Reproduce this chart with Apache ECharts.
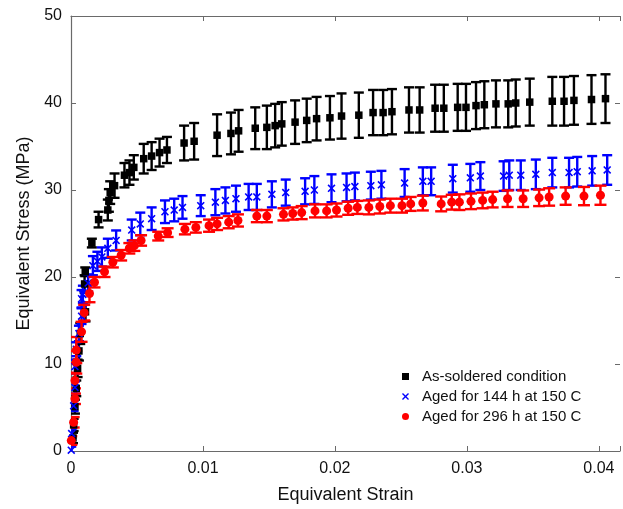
<!DOCTYPE html>
<html>
<head>
<meta charset="utf-8">
<script src="https://cdn.jsdelivr.net/npm/echarts@6/dist/echarts.min.js"></script>
<style>
  html, body { margin: 0; padding: 0; background: #fff; }
  #chart { width: 623px; height: 509px; }
</style>
</head>
<body>
<div id="chart"></div>
<script>
// axis ticks
const xTicks = [0, 0.01, 0.02, 0.03, 0.04];
const yTicks = [0, 10, 20, 30, 40, 50];

const seriesNames = ['As-soldered condition', 'Aged for 144 h at 150 C', 'Aged for 296 h at 150 C'];

// As-soldered condition
const soldStrain = [0.00015, 0.0002, 0.0003, 0.0004, 0.0005, 0.0006, 0.0007, 0.0011, 0.00103, 0.00108,
  0.00158, 0.00209, 0.00279, 0.00287, 0.00297, 0.0033, 0.00405, 0.00443, 0.00476, 0.00551,
  0.00611, 0.00671, 0.00727, 0.00857, 0.00933, 0.01107, 0.01212, 0.0127, 0.01396, 0.01484,
  0.01547, 0.01597, 0.01698, 0.01786, 0.01861, 0.01962, 0.0205, 0.02181, 0.02289, 0.02365,
  0.02432, 0.02561, 0.02642, 0.02759, 0.02825, 0.0293, 0.02993, 0.03069, 0.03132, 0.0322,
  0.03313, 0.0337, 0.03476, 0.03647, 0.03736, 0.03811, 0.03944, 0.0405];
const soldStress = [1.5, 3.0, 5.1, 7.2, 9.5, 11.5, 13.5, 16.0, 19.2, 20.6,
  23.9, 26.6, 27.7, 28.8, 29.7, 30.5, 31.7, 32.0, 32.6, 33.6,
  33.9, 34.3, 34.6, 35.4, 35.6, 36.3, 36.5, 36.8, 37.1, 37.2,
  37.4, 37.6, 37.8, 38.0, 38.2, 38.3, 38.5, 38.6, 38.9, 38.9,
  39.0, 39.2, 39.2, 39.4, 39.4, 39.5, 39.5, 39.7, 39.8, 39.9,
  39.9, 40.0, 40.1, 40.2, 40.2, 40.3, 40.4, 40.5];
const soldErr = [0.6, 0.7, 0.8, 0.9, 1.0, 1.1, 1.2, 1.1, 1.0, 0.5,
  0.5, 0.9, 1.2, 1.3, 1.3, 1.4, 1.4, 1.4, 1.4, 1.7,
  1.6, 1.6, 1.5, 2.0, 2.1, 2.4, 2.4, 2.4, 2.4, 2.5,
  2.5, 2.5, 2.5, 2.5, 2.5, 2.5, 2.6, 2.6, 2.6, 2.6,
  2.6, 2.6, 2.6, 2.7, 2.7, 2.7, 2.7, 2.7, 2.7, 2.7,
  2.7, 2.7, 2.7, 2.8, 2.8, 2.8, 2.8, 2.8];

// Aged for 144 h at 150 C
const aged144Strain = [0.00002, 0.00005, 0.0002, 0.0003, 0.0003, 0.0004, 0.0006, 0.0008, 0.0008, 0.0009,
  0.0013, 0.00166, 0.002, 0.00234, 0.00279, 0.00342, 0.0046, 0.00525, 0.00611, 0.00712,
  0.00782, 0.00845, 0.00983, 0.01094, 0.0117, 0.0125, 0.01346, 0.01408, 0.01522, 0.01627,
  0.01774, 0.01844, 0.01974, 0.02088, 0.02151, 0.02272, 0.02352, 0.02528, 0.02666, 0.02729,
  0.02893, 0.03026, 0.03102, 0.03278, 0.03321, 0.03408, 0.03522, 0.03647, 0.03774, 0.03836,
  0.03949, 0.04063];
const aged144Stress = [0.1, 2.0, 5.2, 7.3, 9.7, 11.7, 13.5, 15.5, 17.5, 18.0,
  19.3, 21.3, 21.8, 22.3, 23.3, 24.2, 25.4, 26.1, 26.7, 27.5,
  27.7, 28.0, 28.2, 28.6, 28.8, 29.0, 29.2, 29.2, 29.5, 29.7,
  29.85, 30.0, 30.2, 30.3, 30.4, 30.5, 30.6, 30.8, 31.0, 31.0,
  31.3, 31.4, 31.6, 31.6, 31.7, 31.7, 31.8, 32.0, 32.0, 32.1,
  32.2, 32.3];
const aged144Err = [0.4, 0.5, 0.6, 0.7, 0.8, 0.8, 0.9, 0.9, 1.0, 1.0,
  1.0, 1.1, 1.1, 1.1, 1.1, 1.15, 1.2, 1.3, 1.3, 1.3,
  1.3, 1.3, 1.2, 1.5, 1.5, 1.5, 1.5, 1.5, 1.5, 1.5,
  1.5, 1.6, 1.6, 1.6, 1.6, 1.6, 1.6, 1.6, 1.6, 1.6,
  1.6, 1.6, 1.6, 1.7, 1.7, 1.7, 1.7, 1.7, 1.7, 1.7,
  1.7, 1.7];

// Aged for 296 h at 150 C
const aged296Strain = [0.00002, 0.0002, 0.0003, 0.0003, 0.0004, 0.0004, 0.0008, 0.001, 0.0014, 0.00178,
  0.00254, 0.00317, 0.0038, 0.00442, 0.0048, 0.00531, 0.00661, 0.00732, 0.00863, 0.00946,
  0.01046, 0.01107, 0.01195, 0.01265, 0.01408, 0.01484, 0.0161, 0.0168, 0.01748, 0.01849,
  0.01937, 0.02012, 0.021, 0.0217, 0.02257, 0.0234, 0.0242, 0.02508, 0.02574, 0.02666,
  0.02805, 0.02885, 0.02943, 0.03031, 0.03119, 0.03195, 0.03308, 0.03426, 0.03547, 0.03623,
  0.03748, 0.03887, 0.04012];
const aged296Stress = [1.2, 3.3, 6.0, 8.1, 10.2, 11.6, 13.7, 15.9, 18.1, 19.4,
  20.6, 21.7, 22.5, 23.3, 23.6, 24.2, 24.7, 25.1, 25.5, 25.7,
  25.9, 26.1, 26.3, 26.5, 27.0, 27.0, 27.2, 27.3, 27.4, 27.6,
  27.6, 27.7, 27.9, 28.0, 28.0, 28.1, 28.2, 28.2, 28.4, 28.5,
  28.4, 28.6, 28.6, 28.7, 28.8, 28.9, 29.0, 29.0, 29.1, 29.2,
  29.3, 29.3, 29.4];
const aged296Err = [0.5, 0.6, 0.6, 0.9, 1.3, 1.5, 1.15, 0.9, 1.0, 0.6,
  0.6, 0.6, 0.6, 0.6, 0.6, 0.6, 0.5, 0.5, 0.6, 0.6,
  0.7, 0.7, 0.7, 0.7, 0.7, 0.7, 0.7, 0.7, 0.75, 0.75,
  0.75, 0.75, 0.75, 0.75, 0.8, 0.8, 0.8, 0.8, 0.8, 0.85,
  0.85, 0.85, 0.9, 0.9, 0.9, 0.9, 0.95, 0.95, 0.95, 1.0,
  1.0, 1.05, 1.1];

const FONT = 'Liberation Sans, Arial, sans-serif';
const crossPath = 'path://M0,1.4L1.4,0L5,3.6L8.6,0L10,1.4L6.4,5L10,8.6L8.6,10L5,6.4L1.4,10L0,8.6L3.6,5Z';
const AXIS_COLOR = '#6a6a6a';

function zip(xs, ys, es) {
  return xs.map((x, i) => es ? [x, ys[i], es[i]] : [x, ys[i]]);
}

function errorBars(name, color, capW, xs, ys, es) {
  return {
    type: 'custom',
    name: name + ' err',
    clip: true,
    data: zip(xs, ys, es),
    encode: { x: 0, y: 1 },
    renderItem: function (params, api) {
      const x = api.value(0), y = api.value(1), e = api.value(2);
      const hi = api.coord([x, y + e]);
      const lo = api.coord([x, y - e]);
      const h = capW / 2;
      const style = { stroke: color, lineWidth: 2.4 };
      return {
        type: 'group',
        children: [
          { type: 'line', shape: { x1: hi[0], y1: hi[1], x2: lo[0], y2: lo[1] }, style: style },
          { type: 'line', shape: { x1: hi[0] - h, y1: hi[1], x2: hi[0] + h, y2: hi[1] }, style: style },
          { type: 'line', shape: { x1: lo[0] - h, y1: lo[1], x2: lo[0] + h, y2: lo[1] }, style: style }
        ]
      };
    },
    z: 2
  };
}

function points(name, color, symbol, size, xs, ys) {
  return {
    type: 'scatter',
    name: name,
    data: zip(xs, ys),
    symbol: symbol,
    symbolSize: size,
    itemStyle: { color: color, opacity: 1 },
    z: 3
  };
}

const tickFmt = function (v) {
  const k = Math.round(v * 100);
  if (Math.abs(v * 100 - k) > 1e-6) return '';
  return xTicks.indexOf(k / 100) >= 0 ? String(k / 100) : '';
};

function frameAxis(extra, showLine) {
  return Object.assign({
    type: 'value',
    axisLine: { show: showLine !== false, onZero: false, lineStyle: { color: AXIS_COLOR, width: 1.2 } },
    axisTick: { show: true, inside: true, length: 5, lineStyle: { color: AXIS_COLOR } },
    splitLine: { show: false }
  }, extra);
}

const chart = echarts.init(document.getElementById('chart'), null, { renderer: 'canvas' });
chart.setOption({
  animation: false,
  backgroundColor: '#fff',
  grid: { left: 71, right: 0, top: 16, bottom: 58 },
  legend: {
    data: seriesNames,
    orient: 'vertical',
    left: 397,
    top: 364,
    itemWidth: 7,
    itemHeight: 7,
    itemGap: 5,
    textStyle: { fontFamily: FONT, fontSize: 15, color: '#111', lineHeight: 15, padding: [0, 0, 0, 8] }
  },
  xAxis: [
    frameAxis({
      min: 0, max: 0.0416, interval: 0.01,
      name: 'Equivalent Strain',
      nameLocation: 'middle',
      nameGap: 35,
      nameTextStyle: { fontFamily: FONT, fontSize: 18, color: '#111' },
      axisLabel: { fontFamily: FONT, fontSize: 16, color: '#111', margin: 10, formatter: tickFmt }
    }),
    frameAxis({
      position: 'top',
      min: 0, max: 0.0416, interval: 0.01,
      axisLabel: { show: false }
    })
  ],
  yAxis: [
    frameAxis({
      min: 0, max: 50, interval: 10,
      name: 'Equivalent Stress (MPa)',
      nameLocation: 'middle',
      nameGap: 33,
      nameTextStyle: { fontFamily: FONT, fontSize: 18, color: '#111' },
      axisLabel: { fontFamily: FONT, fontSize: 16, color: '#111', margin: 9 }
    }),
    // right side: the frame line falls just outside the picture, only ticks show
    frameAxis({
      position: 'right',
      min: 0, max: 50, interval: 10,
      axisLabel: { show: false }
    }, false)
  ],
  series: [
    errorBars(seriesNames[0], '#000000', 10, soldStrain, soldStress, soldErr),
    points(seriesNames[0], '#000000', 'rect', 7.5, soldStrain, soldStress),
    errorBars(seriesNames[1], '#0000ff', 10, aged144Strain, aged144Stress, aged144Err),
    points(seriesNames[1], '#0000ff', crossPath, 8, aged144Strain, aged144Stress),
    errorBars(seriesNames[2], '#ff0000', 12, aged296Strain, aged296Stress, aged296Err),
    points(seriesNames[2], '#ff0000', 'circle', 9, aged296Strain, aged296Stress)
  ]
});
</script>
</body>
</html>
